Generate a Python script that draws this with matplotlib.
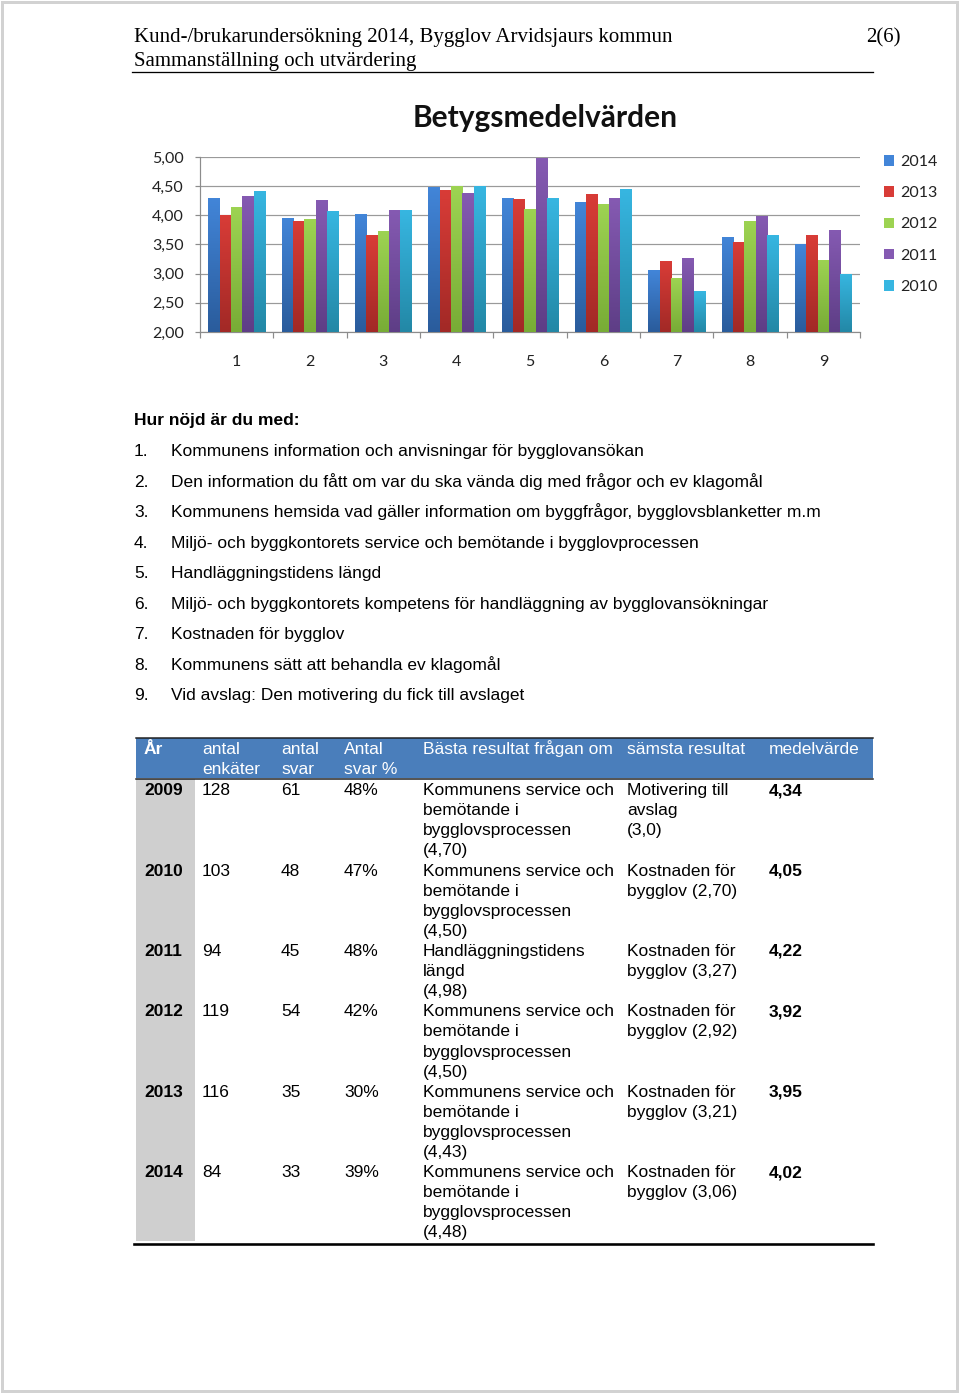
import numpy as np
import matplotlib
matplotlib.use("Agg")
import matplotlib.pyplot as plt
from matplotlib.colors import LinearSegmentedColormap
from matplotlib.patches import Rectangle, Patch

# chart data (Betygsmedelvärden per fråga och år)
questions = ["1", "2", "3", "4", "5", "6", "7", "8", "9"]
years = ["2014", "2013", "2012", "2011", "2010"]
v2014 = [4.29, 3.96, 4.02, 4.48, 4.29, 4.23, 3.06, 3.63, 3.50]
v2013 = [4.00, 3.91, 3.66, 4.43, 4.28, 4.37, 3.21, 3.54, 3.66]
v2012 = [4.14, 3.94, 3.73, 4.50, 4.11, 4.19, 2.92, 3.91, 3.24]
v2011 = [4.34, 4.26, 4.09, 4.39, 4.98, 4.29, 3.27, 3.99, 3.75]
v2010 = [4.42, 4.08, 4.09, 4.50, 4.29, 4.45, 2.70, 3.66, 3.00]
yticks = [2.0, 2.5, 3.0, 3.5, 4.0, 4.5, 5.0]

question_texts = [
    "Kommunens information och anvisningar för bygglovansökan",
    "Den information du fått om var du ska vända dig med frågor och ev klagomål",
    "Kommunens hemsida vad gäller information om byggfrågor, bygglovsblanketter m.m",
    "Miljö- och byggkontorets service och bemötande i bygglovprocessen",
    "Handläggningstidens längd",
    "Miljö- och byggkontorets kompetens för handläggning av bygglovansökningar",
    "Kostnaden för bygglov",
    "Kommunens sätt att behandla ev klagomål",
    "Vid avslag: Den motivering du fick till avslaget",
]

# table data
table_header = [["År"], ["antal", "enkäter"], ["antal", "svar"], ["Antal", "svar %"],
                ["Bästa resultat frågan om"], ["sämsta resultat"], ["medelvärde"]]
table_years = ["2009", "2010", "2011", "2012", "2013", "2014"]
table_enkater = ["128", "103", "94", "119", "116", "84"]
table_svar = ["61", "48", "45", "54", "35", "33"]
table_pct = ["48%", "47%", "48%", "42%", "30%", "39%"]
service = ["Kommunens service och", "bemötande i", "bygglovsprocessen"]
table_best = [service + ["(4,70)"], service + ["(4,50)"],
              ["Handläggningstidens", "längd", "(4,98)"],
              service + ["(4,50)"], service + ["(4,43)"], service + ["(4,48)"]]
table_worst = [["Motivering till", "avslag", "(3,0)"],
               ["Kostnaden för", "bygglov (2,70)"],
               ["Kostnaden för", "bygglov (3,27)"],
               ["Kostnaden för", "bygglov (2,92)"],
               ["Kostnaden för", "bygglov (3,21)"],
               ["Kostnaden för", "bygglov (3,06)"]]
table_mean = ["4,34", "4,05", "4,22", "3,92", "3,95", "4,02"]

# colours: (top, bottom) of the bar gradient
colors = [("#4285D8", "#2A5C9C"), ("#D83C37", "#A22926"), ("#9DD352", "#78AC36"),
          ("#855AB2", "#5E3E86"), ("#37B6E1", "#2388A6")]

W, H = 960, 1393
fig = plt.figure(figsize=(W / 100, H / 100), dpi=100)
fig.patch.set_facecolor("white")

page = fig.add_axes([0, 0, 1, 1])
page.set_xlim(0, W)
page.set_ylim(H, 0)
page.axis("off")
PT = 0.72  # px -> points

# page frame
page.add_patch(Rectangle((1.5, 1.5), W - 4.5, H - 4, fill=False, ec="#D2D2D2", lw=3 * PT))

# page header
serif = "Liberation Serif"
page.text(134, 42, "Kund-/brukarundersökning 2014, Bygglov Arvidsjaurs kommun",
          family=serif, fontsize=15, va="baseline")
page.text(134, 66, "Sammanställning och utvärdering", family=serif, fontsize=15, va="baseline")
page.text(901, 42, "2(6)", family=serif, fontsize=15, va="baseline", ha="right")
page.plot([132, 873], [71.5, 71.5], color="black", lw=1.3 * PT)

# chart title
page.text(545, 118, "Betygsmedelvärden", family="Lato", fontweight="bold",
          fontsize=21.5, ha="center", va="center", color="#111111")

# bar chart
ax = fig.add_axes([200 / W, 1 - 332 / H, 660 / W, 175 / H])
ax.set_facecolor("none")
x = np.arange(len(questions))
bw = 0.155
series = [v2014, v2013, v2012, v2011, v2010]
for i, (vals, (ctop, cbot)) in enumerate(zip(series, colors)):
    bars = ax.bar(x + (i - 2) * bw, vals, bw, color=ctop, zorder=2, lw=0)
    cmap = LinearSegmentedColormap.from_list("g", [cbot, ctop])
    grad = np.linspace(0, 1, 64).reshape(-1, 1)
    for b in bars:
        im = ax.imshow(grad, extent=[b.get_x(), b.get_x() + b.get_width(), yticks[0], b.get_height()],
                       origin="lower", cmap=cmap, aspect="auto", zorder=3)
        im.set_clip_path(b)
ax.set_xlim(-0.5, len(questions) - 0.5)
ax.set_ylim(yticks[0], yticks[-1])
ax.set_yticks(yticks)
ax.set_yticklabels([f"{v:.2f}".replace(".", ",") for v in yticks])
ax.set_xticks(x)
ax.set_xticklabels(questions)
ax.set_xticks(np.arange(len(questions) + 1) - 0.5, minor=True)
ax.tick_params(axis="x", which="major", length=0, pad=16.5)
ax.tick_params(axis="x", which="minor", length=6 * PT, color="#8C8C8C", width=1.2 * PT)
ax.tick_params(axis="y", length=5 * PT, color="#8C8C8C", width=1.2 * PT, pad=8)
for lab in ax.get_xticklabels() + ax.get_yticklabels():
    lab.set_family("Lato")
    lab.set_fontsize(11.5)
    lab.set_color("#222222")
ax.grid(axis="y", color="#9A9A9A", lw=1.2 * PT, zorder=0)
ax.set_axisbelow(True)
for s in ["top", "right"]:
    ax.spines[s].set_visible(False)
for s in ["left", "bottom"]:
    ax.spines[s].set_color("#8C8C8C")
    ax.spines[s].set_linewidth(1.2 * PT)

handles = [Patch(facecolor=c[0], label=y) for y, c in zip(years, colors)]
leg = fig.legend(handles=handles, loc="upper left", bbox_to_anchor=(884 / W, 1 - 155 / H),
                 frameon=False, prop={"family": "Lato", "size": 11.5},
                 handlelength=0.65, handleheight=0.65, handletextpad=0.35, labelspacing=1.08,
                 borderaxespad=0, borderpad=0)
for t in leg.get_texts():
    t.set_color("#222222")

# question list
sans = "Liberation Sans"
fs = 12.5
base = 6.2
page.text(134, 419 + base, "Hur nöjd är du med:", family=sans, fontsize=fs, fontweight="bold",
          va="baseline")
for k, q in enumerate(question_texts):
    yy = 450 + k * 30.5 + base
    page.text(134, yy, f"{k + 1}.", family=sans, fontsize=fs, va="baseline")
    page.text(171, yy, q, family=sans, fontsize=fs, va="baseline")

# table
col_x = [144, 202, 281, 344, 423, 627, 769]
lh = 20.1
tx0, tx1 = 136, 873
page.add_patch(Rectangle((tx0, 737.5), tx1 - tx0, 40.5, color="#4A7EBB", lw=0))
page.plot([tx0, tx1], [737.5, 737.5], color="#1F1F1F", lw=1.5 * PT)
page.plot([tx0, tx1], [778.5, 778.5], color="#1F1F1F", lw=1.5 * PT)
for cx, lines in zip(col_x, table_header):
    for j, t in enumerate(lines):
        page.text(cx, 748 + j * lh + base, t, family=sans, fontsize=fs, color="white",
                  va="baseline", fontweight="bold" if t == "År" else "normal")

row_lines = [max(len(b), len(w)) for b, w in zip(table_best, table_worst)]
table_bottom = 779 + sum(row_lines) * lh
page.add_patch(Rectangle((tx0, 779.3), 195 - tx0, table_bottom - 779.3, color="#CFCFCF", lw=0))
page.plot([134, tx1], [table_bottom + 2.5, table_bottom + 2.5], color="black", lw=2.6 * PT)

y0 = 789
for r in range(len(table_years)):
    yb = y0 + base
    page.text(col_x[0], yb, table_years[r], family=sans, fontsize=fs, fontweight="bold", va="baseline")
    page.text(col_x[1], yb, table_enkater[r], family=sans, fontsize=fs, va="baseline")
    page.text(col_x[2], yb, table_svar[r], family=sans, fontsize=fs, va="baseline")
    page.text(col_x[3], yb, table_pct[r], family=sans, fontsize=fs, va="baseline")
    for j, t in enumerate(table_best[r]):
        page.text(col_x[4], yb + j * lh, t, family=sans, fontsize=fs, va="baseline")
    for j, t in enumerate(table_worst[r]):
        page.text(col_x[5], yb + j * lh, t, family=sans, fontsize=fs, va="baseline")
    page.text(col_x[6], yb, table_mean[r], family=sans, fontsize=fs, fontweight="bold", va="baseline")
    y0 += row_lines[r] * lh

fig.savefig("out.png", dpi=100, facecolor="white")
